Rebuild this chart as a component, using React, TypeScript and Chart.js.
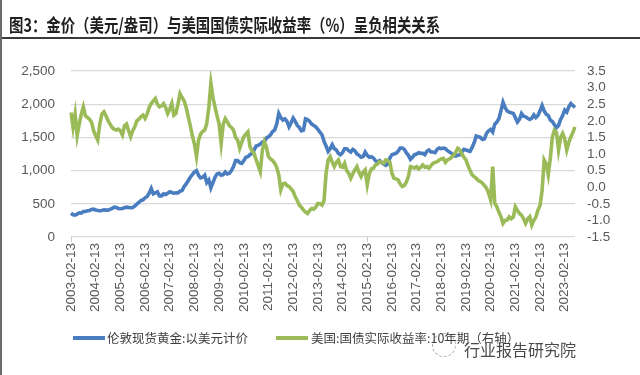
import React, { useEffect, useRef } from "react";
import { Chart, registerables } from "chart.js";

Chart.register(...registerables);

// ---- categories ----
const years = [2003, 2004, 2005, 2006, 2007, 2008, 2009, 2010, 2011, 2012, 2013, 2014, 2015, 2016, 2017, 2018, 2019, 2020, 2021, 2022, 2023];
const monthCodes = ["01", "02", "03", "04", "05", "06", "07", "08", "09", "10", "11", "12"];
const firstLabel = "2003-02-13";
const lastLabel = "2023-07-13";

const tickLabels = [
  "2003-02-13", "2004-02-13", "2005-02-13", "2006-02-13", "2007-02-13", "2008-02-13", "2009-02-13",
  "2010-02-13", "2011-02-13", "2012-02-13", "2013-02-13", "2014-02-13", "2015-02-13", "2016-02-13",
  "2017-02-13", "2018-02-13", "2019-02-13", "2020-02-13", "2021-02-13", "2022-02-13", "2023-02-13",
];

// ---- series: London spot gold, USD (monthly, 2003-02 .. 2023-07) ----
const goldPrice = [
  357, 335, 330, 345, 365, 360, 385, 385, 395, 400, 415, // 2003 Feb-Dec
  420, 405, 400, 395, 400, 410, 405, 405, 415, 430, 450, 445, // 2004
  430, 425, 430, 440, 450, 445, 440, 445, 465, 495, 520, 550, // 2005
  560, 590, 610, 660, 730, 650, 665, 680, 620, 620, 650, 640, // 2006
  660, 680, 670, 660, 665, 665, 690, 700, 760, 800, 850, 900, // 2007
  940, 980, 1000, 930, 890, 900, 930, 820, 860, 740, 820, 900, // 2008
  950, 960, 930, 940, 980, 950, 960, 1000, 1060, 1150, 1150, 1120, // 2009
  1110, 1150, 1200, 1210, 1240, 1260, 1310, 1370, 1380, 1400, 1430, 1440, // 2010
  1490, 1510, 1540, 1590, 1610, 1700, 1860, 1800, 1760, 1780, 1740, 1660, // 2011
  1720, 1790, 1740, 1680, 1650, 1600, 1610, 1780, 1770, 1740, 1700, 1680, // 2012
  1660, 1620, 1580, 1540, 1440, 1370, 1290, 1330, 1390, 1330, 1310, 1260, // 2013
  1240, 1270, 1330, 1330, 1300, 1280, 1320, 1300, 1250, 1230, 1200, 1210, // 2014
  1280, 1230, 1200, 1210, 1190, 1150, 1130, 1150, 1120, 1100, 1080, 1100, // 2015
  1190, 1240, 1250, 1260, 1290, 1340, 1340, 1320, 1270, 1230, 1170, 1200, // 2016
  1240, 1250, 1270, 1260, 1260, 1240, 1290, 1310, 1280, 1280, 1270, 1320, // 2017
  1340, 1330, 1340, 1330, 1300, 1280, 1260, 1230, 1220, 1230, 1240, 1280, // 2018
  1320, 1310, 1300, 1290, 1350, 1420, 1520, 1510, 1500, 1470, 1480, 1560, // 2019
  1600, 1620, 1580, 1700, 1730, 1780, 1900, 2030, 1950, 1900, 1880, 1870, // 2020
  1860, 1800, 1730, 1770, 1860, 1820, 1810, 1790, 1770, 1790, 1840, 1800, // 2021
  1830, 1900, 1980, 1900, 1850, 1830, 1760, 1740, 1690, 1650, 1680, 1770, // 2022
  1830, 1910, 1880, 1960, 2010, 1980, 1950, // 2023 Jan-Jul
];

// ---- series: US 10Y real yield, % (right axis) ----
const realYield10y = [
  2.25, 1.8, 2.2, 1.55, 1.9, 2.2, 2.42, 2.15, 2.1, 2.05, 1.95, // 2003 Feb-Dec
  1.7, 1.55, 1.42, 1.9, 2.2, 2.27, 2.15, 2.0, 1.9, 1.8, 1.75, 1.72, // 2004
  1.75, 1.7, 1.57, 1.85, 1.9, 1.7, 1.52, 1.7, 1.82, 2.0, 2.05, 2.12, // 2005
  2.17, 2.07, 2.2, 2.4, 2.52, 2.6, 2.67, 2.5, 2.42, 2.45, 2.52, 2.4, // 2006
  2.22, 2.35, 2.52, 2.17, 2.22, 2.5, 2.82, 2.7, 2.6, 2.4, 2.12, 1.85, // 2007
  1.55, 1.3, 0.92, 1.42, 1.6, 1.68, 1.72, 1.92, 2.4, 3.13, 2.7, 2.42, // 2008
  2.15, 1.9, 1.32, 1.9, 2.07, 1.97, 1.85, 1.8, 1.72, 1.5, 1.42, 1.17, // 2009
  1.35, 1.52, 1.6, 1.67, 1.22, 1.1, 1.02, 0.82, 0.65, 0.47, 1.1, 1.37, // 2010
  1.2, 0.92, 0.85, 0.8, 0.72, 0.6, 0.37, -0.08, 0.1, 0.12, 0.05, 0.02, // 2011
  -0.05, -0.13, -0.29, -0.4, -0.54, -0.6, -0.69, -0.75, -0.79, -0.7, -0.64, -0.66, // 2012
  -0.6, -0.49, -0.5, -0.54, -0.4, 0.42, 0.82, 0.92, 0.75, 0.62, 0.75, 0.82, // 2013
  0.62, 0.6, 0.72, 0.5, 0.42, 0.27, 0.4, 0.52, 0.62, 0.45, 0.32, 0.45, // 2014
  0.52, 0.07, 0.4, 0.55, 0.57, 0.67, 0.7, 0.77, 0.75, 0.72, 0.82, 0.8, // 2015
  0.75, 0.42, 0.27, 0.25, 0.22, 0.1, 0.02, 0.05, 0.15, 0.32, 0.62, 0.6, // 2016
  0.58, 0.62, 0.55, 0.6, 0.67, 0.6, 0.62, 0.57, 0.65, 0.72, 0.75, 0.77, // 2017
  0.82, 0.85, 0.87, 0.75, 0.82, 0.85, 0.9, 0.97, 1.05, 1.17, 1.12, 1.0, // 2018
  0.9, 0.82, 0.65, 0.5, 0.37, 0.32, 0.27, 0.2, 0.17, 0.12, 0.05, -0.03, // 2019
  -0.18, -0.38, 0.62, -0.49, -0.59, -0.75, -0.89, -1.09, -1.0, -0.99, -0.89, -0.95, // 2020
  -0.9, -0.59, -0.7, -0.79, -0.84, -0.95, -1.09, -0.95, -0.89, -1.14, -1.0, -0.9, // 2021
  -0.69, -0.55, -0.1, 0.82, 0.7, 0.37, 0.87, 1.52, 1.72, 1.65, 1.12, 1.5, // 2022
  1.62, 1.45, 1.12, 1.35, 1.52, 1.65, 1.82, // 2023 Jan-Jul
];

const titleText = "图3：金价（美元/盎司）与美国国债实际收益率（%）呈负相关关系";
const goldName = "伦敦现货黄金:以美元计价";
const yieldName = "美国:国债实际收益率:10年期（右轴）";
const watermarkText = "行业报告研究院";

const BLUE = "#4a7dc0";
const GREEN = "#9bbb59";
const TICK_COLOR = "#595959";
const GRID_COLOR = "#d9d9d9";

function buildLabels(): string[] {
  const out: string[] = [];
  let on = false;
  for (const y of years) {
    for (const m of monthCodes) {
      const l = `${y}-${m}-13`;
      if (l === firstLabel) on = true;
      if (on) out.push(l);
      if (l === lastLabel) return out;
    }
  }
  return out;
}

export default function App() {
  const ref = useRef<HTMLCanvasElement | null>(null);

  useEffect(() => {
    if (!ref.current) return;
    const labels = buildLabels();
    const tickFont = { family: "'Liberation Sans', Arial, sans-serif", size: 13.5 };
    const chart = new Chart(ref.current, {
      type: "line",
      data: {
        labels,
        datasets: [
          {
            label: yieldName,
            data: realYield10y,
            yAxisID: "y1",
            borderColor: GREEN,
            backgroundColor: GREEN,
            borderWidth: 3.6,
            pointRadius: 0,
            tension: 0,
            order: 0,
          },
          {
            label: goldName,
            data: goldPrice,
            yAxisID: "y",
            borderColor: BLUE,
            backgroundColor: BLUE,
            borderWidth: 3.6,
            pointRadius: 0,
            tension: 0,
            order: 1,
          },
        ],
      },
      options: {
        responsive: false,
        animation: false,
        devicePixelRatio: 1,
        layout: { padding: { left: 0, right: 0, top: 71, bottom: 0 } },
        plugins: {
          legend: { display: false },
          tooltip: { enabled: false },
          title: { display: false },
        },
        scales: {
          x: {
            type: "category",
            offset: false,
            border: { display: false },
            grid: {
              drawOnChartArea: false,
              drawTicks: true,
              tickLength: 5,
              color: (ctx: any) =>
                tickLabels.includes(labels[ctx.index]) ? "#c8c8c8" : "rgba(0,0,0,0)",
            },
            ticks: {
              autoSkip: false,
              maxRotation: 90,
              minRotation: 90,
              padding: 1,
              color: TICK_COLOR,
              font: tickFont,
              callback: (_v: any, index: number) =>
                tickLabels.includes(labels[index]) ? labels[index] : null,
            },
            afterFit: (s: any) => {
              s.height = 138;
            },
          },
          y: {
            position: "left",
            min: 0,
            max: 2500,
            border: { display: false },
            grid: { color: GRID_COLOR, lineWidth: 1.3, drawTicks: false },
            ticks: {
              stepSize: 500,
              padding: 16,
              color: TICK_COLOR,
              font: tickFont,
              callback: (v: any) => Number(v).toLocaleString("en-US"),
            },
            afterFit: (s: any) => {
              s.width = 71;
            },
          },
          y1: {
            position: "right",
            min: -1.5,
            max: 3.5,
            border: { display: false },
            grid: { drawOnChartArea: false, drawTicks: false },
            ticks: {
              stepSize: 0.5,
              autoSkip: false,
              maxTicksLimit: 20,
              padding: 12,
              color: TICK_COLOR,
              font: tickFont,
              callback: (v: any) => Number(v).toFixed(1),
            },
            afterFit: (s: any) => {
              s.width = 65;
            },
          },
        },
      },
    } as any);
    return () => chart.destroy();
  }, []);

  const legendFont = "12.5px 'Noto Sans CJK SC', sans-serif";

  return (
    <div
      style={{
        position: "fixed",
        left: 0,
        top: 0,
        width: 640,
        height: 375,
        background: "#ffffff",
        overflow: "hidden",
      }}
    >
      <canvas ref={ref} width={640} height={375} style={{ position: "absolute", left: 0, top: 0 }} />
      <div
        style={{
          position: "absolute",
          left: 9,
          top: 15,
          font: "bold 18px 'Noto Sans CJK SC', sans-serif",
          lineHeight: "18px",
          color: "#1f1f1f",
          whiteSpace: "nowrap",
          transform: "scaleX(0.8)",
          transformOrigin: "left center",
        }}
      >
        {titleText}
      </div>
      <div style={{ position: "absolute", left: 0, top: 37, width: 640, height: 1.5, background: "#3a3a3a" }} />
      <div style={{ position: "absolute", left: 0, top: 0, width: 1.5, height: 375, background: "#6a6a6a" }} />

      <div style={{ position: "absolute", left: 73, top: 336, width: 32, height: 4, background: BLUE }} />
      <div
        style={{
          position: "absolute",
          left: 107,
          top: 331,
          font: legendFont,
          lineHeight: "14px",
          color: "#404040",
          whiteSpace: "nowrap",
        }}
      >
        {goldName}
      </div>
      <div style={{ position: "absolute", left: 276, top: 336, width: 32, height: 4, background: GREEN }} />
      <div
        style={{
          position: "absolute",
          left: 311,
          top: 331,
          font: legendFont,
          lineHeight: "14px",
          color: "#404040",
          whiteSpace: "nowrap",
        }}
      >
        {yieldName}
      </div>

      <div
        style={{
          position: "absolute",
          left: 432,
          top: 333,
          width: 22,
          height: 22,
          borderRadius: "50%",
          border: "1.5px dashed #9a9a9a",
          opacity: 0.8,
        }}
      />
      <div
        style={{
          position: "absolute",
          left: 464,
          top: 340,
          font: "16px 'Noto Sans CJK SC', sans-serif",
          lineHeight: "18px",
          color: "#2a2a2a",
          opacity: 0.85,
          whiteSpace: "nowrap",
          textShadow: "0 0 2px #fff, 0 0 2px #fff",
        }}
      >
        {watermarkText}
      </div>
    </div>
  );
}
